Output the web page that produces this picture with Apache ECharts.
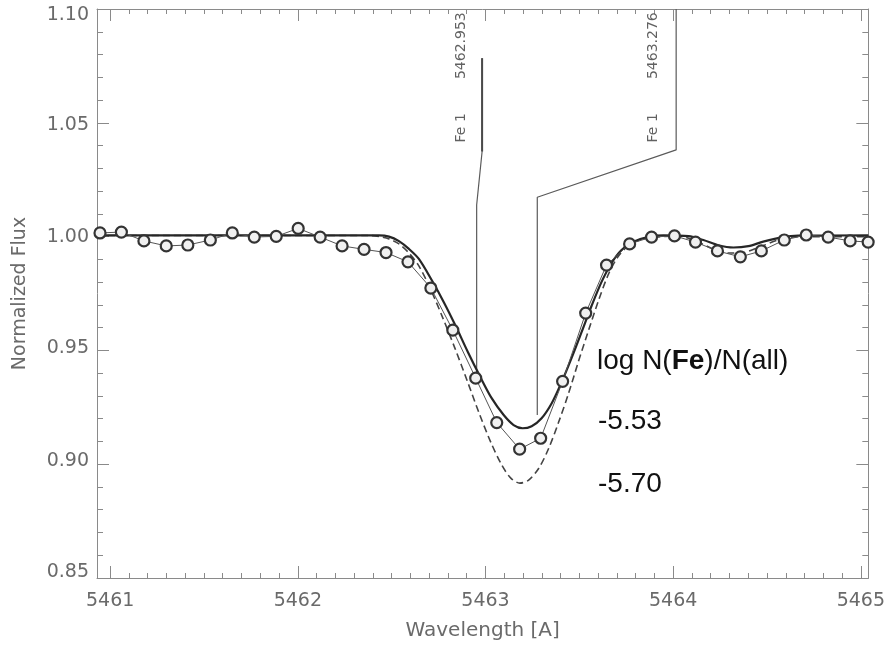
<!DOCTYPE html>
<html>
<head>
<meta charset="utf-8">
<title>Fe 1 line fit</title>
<script src="https://cdn.jsdelivr.net/npm/echarts@6/dist/echarts.min.js"></script>
<style>
  html, body { margin: 0; padding: 0; background: #fff; }
  #chart { width: 888px; height: 646px; }
</style>
</head>
<body>
<div id="chart"></div>
<script>
// observed spectrum (circles)
const obsWave = [5460.946, 5461.060, 5461.180, 5461.299, 5461.414, 5461.534, 5461.651, 5461.768, 5461.885,
  5462.002, 5462.119, 5462.236, 5462.353, 5462.470, 5462.587, 5462.709, 5462.826, 5462.948, 5463.060,
  5463.182, 5463.294, 5463.411, 5463.534, 5463.645, 5463.768, 5463.885, 5464.007, 5464.119, 5464.236,
  5464.358, 5464.470, 5464.592, 5464.709, 5464.826, 5464.943, 5465.039];
const obsFlux = [1.0016, 1.0020, 0.9981, 0.9959, 0.9963, 0.9985, 1.0016, 0.9998, 1.0001,
  1.0036, 0.9998, 0.9959, 0.9944, 0.9930, 0.9889, 0.9774, 0.9589, 0.9378, 0.9183,
  0.9066, 0.9114, 0.9364, 0.9664, 0.9875, 0.9968, 0.9998, 1.0003, 0.9976, 0.9937,
  0.9911, 0.9937, 0.9985, 1.0007, 0.9998, 0.9981, 0.9976];

// synthetic spectrum, log N(Fe)/N(all) = -5.53 (solid)
const fit553Wave = [5460.930, 5462.432, 5462.486, 5462.539, 5462.592, 5462.645, 5462.714, 5462.778, 5462.842,
  5462.906, 5462.970, 5463.033, 5463.097, 5463.150, 5463.198, 5463.246, 5463.299, 5463.353, 5463.406,
  5463.459, 5463.512, 5463.565, 5463.618, 5463.672, 5463.725, 5463.789, 5463.869, 5463.949, 5464.082,
  5464.161, 5464.241, 5464.321, 5464.401, 5464.480, 5464.587, 5464.666, 5465.040];
const fit553Flux = [1.0005, 1.0005, 1.0000, 0.9980, 0.9946, 0.9902, 0.9808, 0.9712, 0.9606,
  0.9493, 0.9387, 0.9290, 0.9216, 0.9172, 0.9158, 0.9167, 0.9202, 0.9268, 0.9361,
  0.9467, 0.9580, 0.9695, 0.9800, 0.9884, 0.9941, 0.9977, 0.9999, 1.0005, 1.0002,
  0.9985, 0.9962, 0.9952, 0.9958, 0.9978, 0.9998, 1.0004, 1.0005];

// synthetic spectrum, log N(Fe)/N(all) = -5.70 (dashed)
const fit570Wave = [5460.930, 5462.379, 5462.433, 5462.486, 5462.539, 5462.592, 5462.645, 5462.709, 5462.773,
  5462.837, 5462.901, 5462.964, 5463.028, 5463.087, 5463.135, 5463.183, 5463.230, 5463.284, 5463.337,
  5463.390, 5463.443, 5463.496, 5463.550, 5463.603, 5463.656, 5463.709, 5463.773, 5463.842, 5463.922,
  5464.028, 5464.135, 5464.214, 5464.294, 5464.374, 5464.454, 5464.560, 5464.667, 5465.040];
const fit570Flux = [1.0005, 1.0005, 1.0000, 0.9990, 0.9968, 0.9928, 0.9871, 0.9766, 0.9642,
  0.9510, 0.9370, 0.9229, 0.9097, 0.8996, 0.8939, 0.8917, 0.8930, 0.8982, 0.9070,
  0.9185, 0.9312, 0.9453, 0.9590, 0.9721, 0.9836, 0.9915, 0.9968, 0.9990, 0.9999,
  1.0002, 0.9975, 0.9945, 0.9928, 0.9930, 0.9952, 0.9985, 1.0000, 1.0000];

// line identification markers (wavelength, flux along the bent leader)
const feMark1 = [[5462.953, 0.9400], [5462.953, 1.0139], [5462.982, 1.0374], [5462.982, 1.0784]];
const feMark2 = [[5463.276, 0.9216], [5463.276, 1.0173], [5464.016, 1.0381], [5464.016, 1.1000]];
const feLabels = [
  { name: '5462.953', value: [5462.871, 1.0839] },
  { name: 'Fe 1', value: [5462.871, 1.0478] },
  { name: '5463.276', value: [5463.895, 1.0839] },
  { name: 'Fe 1', value: [5463.895, 1.0478] }
];

const xMin = 5460.93, xMax = 5465.04;
const yMin = 0.85, yMax = 1.10;

const zip = (a, b) => a.map((v, i) => [v, b[i]]);

const frameColor = '#8a8a8a';
const labelColor = '#6a6a6a';
const fontName = 'DejaVu Sans';

// the y labels sit a little inside the tick marks near the ends, as in the original plot
const yLabelShift = { '1.10': 'd6', '1.05': 'd2', '1.00': 'z0', '0.95': 'u2', '0.90': 'u3', '0.85': 'u6' };
const yLabelRich = {
  d6: { padding: [12, 0, 0, 0] }, d2: { padding: [4, 0, 0, 0] }, z0: {},
  u2: { padding: [0, 0, 4, 0] }, u3: { padding: [0, 0, 6, 0] }, u6: { padding: [0, 0, 12, 0] }
};
Object.keys(yLabelRich).forEach(k => {
  Object.assign(yLabelRich[k], { fontFamily: fontName, fontSize: 19, color: labelColor });
});

const chart = echarts.init(document.getElementById('chart'));

const baseX = {
  type: 'value',
  min: xMin,
  max: xMax,
  axisLine: { show: true, lineStyle: { color: frameColor, width: 1 } },
  axisTick: { show: true, inside: true, length: 12, lineStyle: { color: frameColor } },
  minorTick: { show: true, splitNumber: 10, length: 5, lineStyle: { color: frameColor } },
  splitLine: { show: false },
  minorSplitLine: { show: false }
};
const baseY = {
  type: 'value',
  min: yMin,
  max: yMax,
  interval: 0.05,
  axisLine: { show: true, lineStyle: { color: frameColor, width: 1 } },
  axisTick: { show: true, inside: true, length: 12, lineStyle: { color: frameColor } },
  minorTick: { show: true, splitNumber: 5, length: 6, lineStyle: { color: frameColor } },
  splitLine: { show: false },
  minorSplitLine: { show: false }
};

const option = {
  animation: false,
  backgroundColor: '#fff',
  grid: { left: 97, right: 18, top: 9, bottom: 68, containLabel: false },
  xAxis: [
    Object.assign({}, baseX, {
      position: 'bottom',
      name: 'Wavelength [A]',
      nameLocation: 'middle',
      nameGap: 43,
      nameTextStyle: { fontFamily: fontName, fontSize: 20, color: labelColor },
      axisLabel: {
        show: true, margin: 14, fontFamily: fontName, fontSize: 19, color: labelColor,
        formatter: v => (Math.abs(v - Math.round(v)) < 1e-6 ? String(Math.round(v)) : '')
      }
    }),
    Object.assign({}, baseX, { position: 'top', axisLabel: { show: false } })
  ],
  yAxis: [
    Object.assign({}, baseY, {
      position: 'left',
      name: 'Normalized Flux',
      nameLocation: 'middle',
      nameGap: 67,
      nameRotate: 90,
      nameTextStyle: { fontFamily: fontName, fontSize: 19, color: labelColor },
      axisLabel: {
        show: true, margin: 8, fontFamily: fontName, fontSize: 19, color: labelColor,
        formatter: v => {
          const t = v.toFixed(2);
          return '{' + (yLabelShift[t] || 'z0') + '|' + t + '}';
        },
        rich: yLabelRich
      }
    }),
    Object.assign({}, baseY, { position: 'right', axisLabel: { show: false } })
  ],
  series: [
    {
      name: 'Fe 1 markers a',
      type: 'line',
      data: feMark1,
      showSymbol: false,
      lineStyle: { color: '#5a5a5a', width: 1.2 },
      z: 2
    },
    {
      name: 'Fe 1 marker a top',
      type: 'line',
      data: feMark1.slice(2),
      showSymbol: false,
      lineStyle: { color: '#4a4a4a', width: 2 },
      z: 2
    },
    {
      name: 'Fe 1 markers b',
      type: 'line',
      data: feMark2,
      showSymbol: false,
      lineStyle: { color: '#5a5a5a', width: 1.2 },
      z: 2
    },
    {
      name: 'marker labels',
      type: 'scatter',
      data: feLabels,
      symbolSize: 0,
      label: {
        show: true,
        position: 'inside',
        rotate: 90,
        formatter: p => p.name,
        fontFamily: fontName,
        fontSize: 14,
        color: '#3a3a3a'
      },
      z: 3
    },
    {
      name: '-5.70',
      type: 'line',
      data: zip(fit570Wave, fit570Flux),
      showSymbol: false,
      smooth: 0.3,
      lineStyle: { color: '#444', width: 1.6, type: [7, 4] },
      z: 4
    },
    {
      name: '-5.53',
      type: 'line',
      data: zip(fit553Wave, fit553Flux),
      showSymbol: false,
      smooth: 0.3,
      lineStyle: { color: '#262626', width: 2.2 },
      z: 5
    },
    {
      name: 'observed',
      type: 'line',
      data: zip(obsWave, obsFlux),
      symbol: 'circle',
      symbolSize: 11,
      showAllSymbol: true,
      lineStyle: { color: '#555', width: 1 },
      itemStyle: { color: '#f0f0f0', borderColor: '#333', borderWidth: 2.2 },
      z: 6
    }
  ],
  graphic: [
    {
      type: 'text', left: 597, top: 347, z: 10,
      style: {
        text: '{a|log N(}{b|Fe}{a|)/N(all)}',
        rich: {
          a: { fontFamily: 'Liberation Sans', fontSize: 28, fill: '#111' },
          b: { fontFamily: 'Liberation Sans', fontSize: 28, fontWeight: 'bold', fill: '#111' }
        }
      }
    },
    {
      type: 'text', left: 598, top: 407, z: 10,
      style: { text: '-5.53', font: '28px "Liberation Sans"', fill: '#111' }
    },
    {
      type: 'text', left: 598, top: 470, z: 10,
      style: { text: '-5.70', font: '28px "Liberation Sans"', fill: '#111' }
    }
  ]
};

chart.setOption(option);
</script>
</body>
</html>
